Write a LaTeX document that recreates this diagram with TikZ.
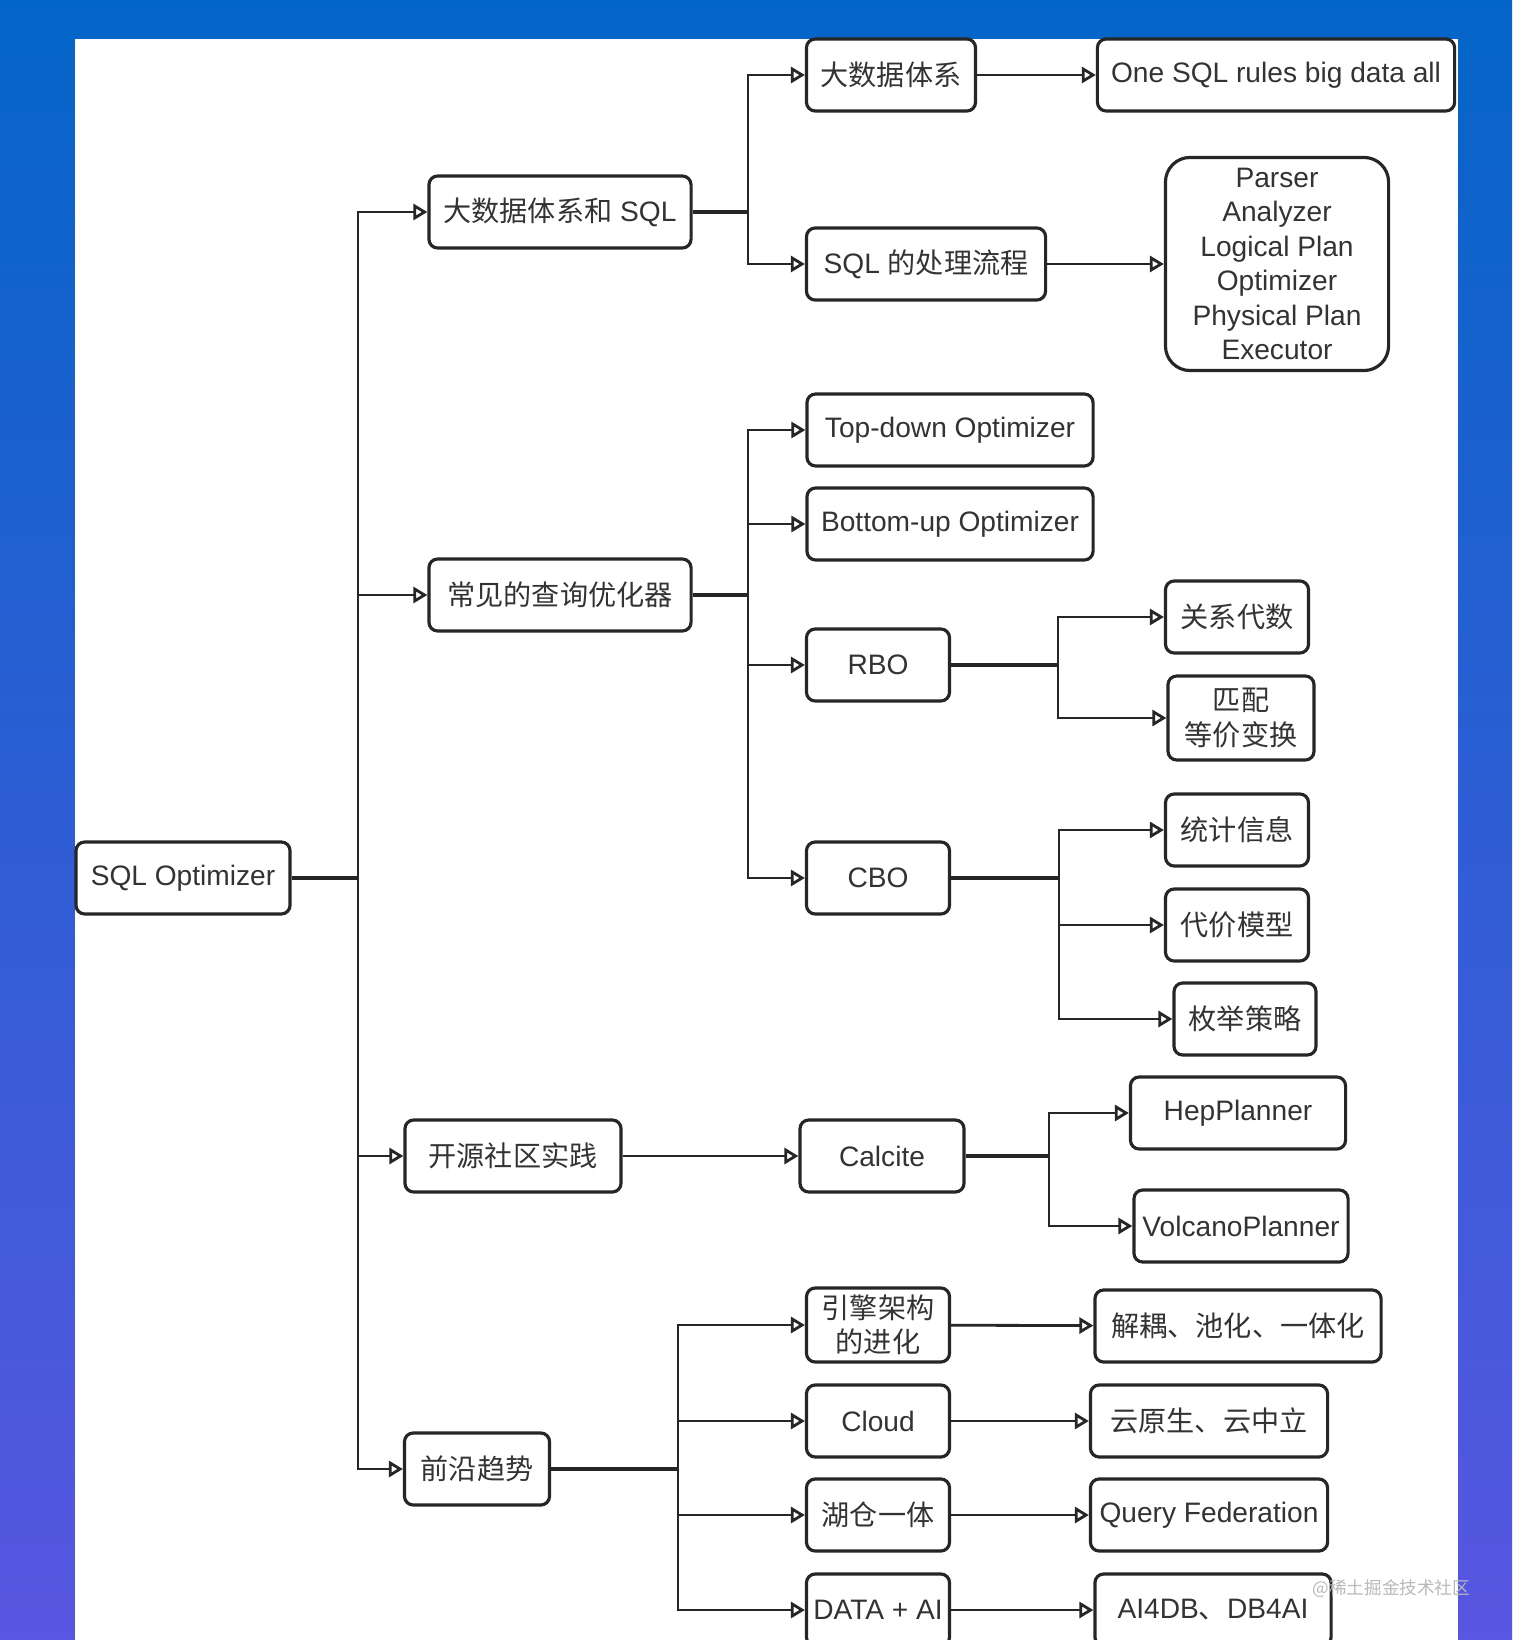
\documentclass[tikz,border=0pt]{standalone}
\usepackage{fontspec}
\setmainfont{Liberation Sans}
\newfontfamily\cjk{Noto Sans CJK SC}
\usetikzlibrary{arrows.meta,calc}

\definecolor{bgtop}{RGB}{4,101,200}
\definecolor{bgbot}{RGB}{88,86,226}

\tikzset{
  box/.style={draw=black!85, line width=0.9pt, rounded corners=2.5pt, fill=white,
    text=black!80, align=center, inner sep=0pt, minimum height=0.72cm,
    font=\fontsize{8}{9.8}\selectfont},
  zh/.style={font=\fontsize{8}{9.8}\selectfont\cjk},
  link/.style={draw=black!85, line width=0.8pt, -{Triangle[open, length=4pt, width=4.6pt]}},
  bar/.style={draw=black!85, line width=1.1pt},
}

\begin{document}
\begin{tikzpicture}[x=0.01cm, y=-0.01cm]
  \useasboundingbox (0,0) rectangle (1512,1640);
  \clip (0,0) rectangle (1512,1640);
  % background and panel
  \shade[top color=bgtop, bottom color=bgbot] (0,0) rectangle (1512,1640);
  \fill[white] (75,39) rectangle (1458,1660);

  % root and first level
  \node[box, minimum width=2.14cm] (opt) at (183,878) {SQL Optimizer};
  \node[box, minimum width=2.62cm] (bigsql) at (560,212) {{\cjk 大数据体系和} SQL};
  \node[box, zh, minimum width=2.62cm] (common) at (560,595) {常见的查询优化器};
  \node[box, zh, minimum width=2.16cm] (oss) at (513,1156) {开源社区实践};
  \node[box, zh, minimum width=1.45cm] (trend) at (477,1469) {前沿趋势};

  % big data and SQL
  \node[box, zh, minimum width=1.69cm] (bigdata) at (891,75) {大数据体系};
  \node[box, minimum width=3.57cm] (onesql) at (1276,75) {One SQL rules big data all};
  \node[box, minimum width=2.39cm] (flow) at (926,264) {SQL {\cjk 的处理流程}};
  \node[box, minimum width=2.23cm, minimum height=2.13cm, rounded corners=7pt] (stages) at (1277,264)
    {Parser\\Analyzer\\Logical Plan\\Optimizer\\Physical Plan\\Executor};

  % optimizers
  \node[box, minimum width=2.86cm] (topdown) at (950,430) {Top-down Optimizer};
  \node[box, minimum width=2.86cm] (bottomup) at (950,524) {Bottom-up Optimizer};
  \node[box, minimum width=1.43cm] (rbo) at (878,665) {RBO};
  \node[box, minimum width=1.43cm] (cbo) at (878,878) {CBO};
  \node[box, zh, minimum width=1.43cm] (algebra) at (1237,617) {关系代数};
  \node[box, zh, minimum width=1.46cm, minimum height=0.84cm] (match) at (1241,718) {匹配\\等价变换};
  \node[box, zh, minimum width=1.43cm] (stats) at (1237,830) {统计信息};
  \node[box, zh, minimum width=1.43cm] (cost) at (1237,925) {代价模型};
  \node[box, zh, minimum width=1.42cm] (enum) at (1245,1019) {枚举策略};

  % open source
  \node[box, minimum width=1.64cm] (calcite) at (882,1156) {Calcite};
  \node[box, minimum width=2.15cm] (hep) at (1238,1113) {HepPlanner};
  \node[box, minimum width=2.14cm] (volcano) at (1241,1226) {VolcanoPlanner};

  % trends
  \node[box, zh, minimum width=1.43cm, minimum height=0.74cm] (engine) at (878,1325) {引擎架构\\的进化};
  \node[box, minimum width=1.43cm] (cloud) at (878,1421) {Cloud};
  \node[box, zh, minimum width=1.43cm] (lake) at (878,1515) {湖仓一体};
  \node[box, minimum width=1.43cm] (dataai) at (878,1610) {DATA + AI};
  \node[box, zh, minimum width=2.86cm] (decouple) at (1238,1326) {解耦、池化、一体化};
  \node[box, zh, minimum width=2.37cm] (native) at (1209,1421) {云原生、云中立};
  \node[box, minimum width=2.37cm] (fed) at (1209,1515) {Query Federation};
  \node[box, minimum width=2.36cm] (ai4db) at (1213,1610) {AI4DB{\cjk 、}DB4AI};

  % watermark
  \node[anchor=west, inner sep=0pt, text=gray!55, font=\fontsize{5}{6}\selectfont\cjk] (mark) at (1312,1589) {@稀土掘金技术社区};

  % junctions
  \coordinate (j0) at (358,878);
  \coordinate (j1) at (748,212);
  \coordinate (j2) at (748,595);
  \coordinate (j3) at (1058,665);
  \coordinate (j4) at (1059,878);
  \coordinate (j5) at (1049,1156);
  \coordinate (j6) at (678,1469);

  % branches
  \draw[bar] (opt.east) -- (j0);
  \foreach \c in {bigsql,common,oss,trend} \draw[link] (j0) |- (\c.west);
  \draw[bar] (bigsql.east) -- (j1);
  \foreach \c in {bigdata,flow} \draw[link] (j1) |- (\c.west);
  \draw[bar] (common.east) -- (j2);
  \foreach \c in {topdown,bottomup,rbo,cbo} \draw[link] (j2) |- (\c.west);
  \draw[bar] (rbo.east) -- (j3);
  \foreach \c in {algebra,match} \draw[link] (j3) |- (\c.west);
  \draw[bar] (cbo.east) -- (j4);
  \foreach \c in {stats,cost,enum} \draw[link] (j4) |- (\c.west);
  \draw[bar] (calcite.east) -- (j5);
  \foreach \c in {hep,volcano} \draw[link] (j5) |- (\c.west);
  \draw[bar] (trend.east) -- (j6);
  \foreach \c in {engine,cloud,lake,dataai} \draw[link] (j6) |- (\c.west);

  % straight links
  \draw[link] (bigdata) -- (onesql);
  \draw[link] (flow) -- (stages);
  \draw[link] (oss) -- (calcite);
  \draw[link] (engine) -- (decouple);
  \draw[link] (cloud) -- (native);
  \draw[link] (lake) -- (fed);
  \draw[link] (dataai) -- (ai4db);
\end{tikzpicture}
\end{document}
